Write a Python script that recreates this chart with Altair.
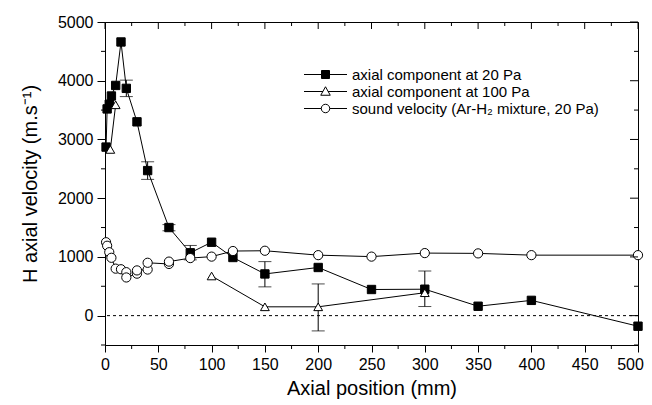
import altair as alt
import pandas as pd

S1 = "axial component at 20 Pa"
S2 = "axial component at 100 Pa"
S3 = "sound velocity (Ar-H\u2082 mixture, 20 Pa)"
series_names = [S1, S2, S3]

sq_x = [1, 2, 4, 6, 10, 15, 20, 30, 40, 60, 80, 100, 120, 150, 200, 250, 300, 350, 400, 500]
sq_y = [2870, 3520, 3600, 3740, 3920, 4660, 3870, 3300, 2470, 1500, 1070, 1250, 990, 710, 820, 445, 450, 160, 260, -180]

tri_x = [5, 10, 100, 150, 200, 300]
tri_y = [2830, 3590, 675, 150, 150, 390]
tri_seg = [0, 0, 1, 1, 1, 1]

circ_x = [1, 2, 4, 6, 10, 15, 20, 20, 30, 30, 40, 40, 60, 60, 80, 100, 120, 150, 200, 250, 300, 350, 400, 500]
circ_y = [1250, 1190, 1080, 985, 800, 790, 740, 650, 715, 770, 785, 900, 880, 920, 980, 1005, 1100, 1105, 1030, 1005, 1065, 1060, 1030, 1030]

err_x = [20, 40, 60, 80, 150, 200, 300]
err_lo = [3730, 2320, 1445, 950, 490, -260, 155]
err_hi = [4010, 2620, 1550, 1195, 920, 540, 760]

x_major = [0, 50, 100, 150, 200, 250, 300, 350, 400, 450, 500]
x_minor = [25, 75, 125, 175, 225, 275, 325, 375, 425, 475]
y_major = [0, 1000, 2000, 3000, 4000, 5000]
y_minor = [-500, 500, 1500, 2500, 3500, 4500]

rows = []
for i, (a, b) in enumerate(zip(sq_x, sq_y)):
    rows.append({"x": a, "y": b, "series": S1, "seg": "s1", "idx": i})
for i, (a, b, s) in enumerate(zip(tri_x, tri_y, tri_seg)):
    rows.append({"x": a, "y": b, "series": S2, "seg": f"s2_{s}", "idx": i})
for i, (a, b) in enumerate(zip(circ_x, circ_y)):
    rows.append({"x": a, "y": b, "series": S3, "seg": "s3", "idx": i})
df = pd.DataFrame(rows)

leg_df = pd.DataFrame({"lseries": series_names, "x": [sq_x[-1]] * 3, "y": [sq_y[-1]] * 3})

err_df = pd.DataFrame({"x": err_x, "lo": err_lo, "hi": err_hi})
zero_df = pd.DataFrame({"y": [0]})
xt_major = pd.DataFrame({"x": x_major})
xt_minor = pd.DataFrame({"x": x_minor})
yt_major = pd.DataFrame({"y": y_major})
yt_minor = pd.DataFrame({"y": y_minor})

FONT = "Liberation Sans"
W, H = 533, 323

xscale = alt.Scale(domain=[0, 500], nice=False, zero=False)
yscale = alt.Scale(domain=[-500, 5000], nice=False, zero=False)

x_axis = alt.Axis(
    values=x_major, format="d", tickSize=7, labelFlush=False,
    labelOffset={"condition": {"test": "datum.value === 500", "value": -8}, "value": 0},
    grid=False, domainColor="black", tickColor="black", labelColor="black",
    labelFont=FONT, labelFontSize=16, labelPadding=4,
    title="Axial position (mm)", titleFont=FONT, titleFontSize=20,
    titleFontWeight="normal", titleColor="black", titlePadding=6,
)
y_axis = alt.Axis(
    values=y_major, format="d", tickSize=8, labelFlush=False,
    grid=False, domainColor="black", tickColor="black", labelColor="black",
    labelFont=FONT, labelFontSize=16, labelPadding=4,
    title="H axial velocity (m.s\u207b\u00b9)", titleFont=FONT, titleFontSize=20,
    titleFontWeight="normal", titleColor="black", titlePadding=17,
)

X = alt.X("x:Q", scale=xscale, axis=x_axis)
Y = alt.Y("y:Q", scale=yscale, axis=y_axis)


def xs(field="x"):
    return alt.X(f"{field}:Q", scale=xscale, axis=x_axis)


def ys(field="y"):
    return alt.Y(f"{field}:Q", scale=yscale, axis=y_axis)


lines = alt.Chart(df).mark_line(color="black", strokeWidth=1).encode(
    x=X, y=Y, detail="seg:N", order="idx:Q"
)

zero = alt.Chart(zero_df).mark_rule(color="black", strokeDash=[3, 3], strokeWidth=1).encode(y=ys())

err_v = alt.Chart(err_df).mark_rule(color="black", strokeWidth=1).encode(
    x=xs(), y=ys("lo"), y2="hi:Q"
)
err_lo_cap = alt.Chart(err_df).mark_tick(color="black", orient="horizontal", size=13, thickness=1).encode(
    x=xs(), y=ys("lo")
)
err_hi_cap = alt.Chart(err_df).mark_tick(color="black", orient="horizontal", size=13, thickness=1).encode(
    x=xs(), y=ys("hi")
)

points = alt.Chart(df).mark_point(filled=True, stroke="black", strokeWidth=1, opacity=1).encode(
    x=xs(), y=ys(),
    shape=alt.Shape("series:N", scale=alt.Scale(domain=series_names, range=["square", "triangle-up", "circle"]), legend=None),
    fill=alt.Fill("series:N", scale=alt.Scale(domain=series_names, range=["black", "white", "white"]), legend=None),
    size=alt.Size("series:N", scale=alt.Scale(domain=series_names, range=[70, 85, 80]), legend=None),
)

# legend symbols "—■—", "—△—", "—○—" (unit path space scaled by sqrt(size)/2 = 5 px)
P_SQ = "M-4.3,0H-0.8M0.8,0H4.3M-0.8,-0.8H0.8V0.8H-0.8Z"
P_TRI = "M-4.3,0H-0.5M0.5,0H4.3M0,-0.95L0.95,0.75H-0.95Z"
P_CIR = "M-4.3,0H-0.85M0.85,0H4.3M0.85,0A0.85,0.85,0,1,1,-0.85,0A0.85,0.85,0,1,1,0.85,0Z"

legend = alt.Legend(
    title=None, orient="none", legendX=213, legendY=45,
    symbolSize=100, symbolStrokeColor="black", symbolStrokeWidth=1, symbolOpacity=1,
    labelFont=FONT, labelFontSize=15, labelColor="black", labelLimit=500,
    labelOffset=19, padding=0, rowPadding=1,
)

legend_layer = alt.Chart(leg_df).mark_point(filled=False, stroke="black", strokeWidth=1, opacity=0, size=100).encode(
    x=xs(), y=ys(),
    shape=alt.Shape("lseries:N", scale=alt.Scale(domain=series_names, range=[P_SQ, P_TRI, P_CIR]), legend=legend),
    fill=alt.Fill("lseries:N", scale=alt.Scale(domain=series_names, range=["black", "white", "white"]), legend=legend),
    stroke=alt.Stroke("lseries:N", scale=alt.Scale(domain=series_names, range=["black", "black", "black"]), legend=legend),
)

# inward ticks on top and right frame, outward minor ticks on bottom and left axes
top_major = alt.Chart(xt_major).mark_rule(color="black").encode(x=xs(), y=alt.value(0), y2=alt.value(7))
top_minor = alt.Chart(xt_minor).mark_rule(color="black").encode(x=xs(), y=alt.value(0), y2=alt.value(4))
bot_minor = alt.Chart(xt_minor).mark_rule(color="black").encode(x=xs(), y=alt.value(H), y2=alt.value(H + 4))
right_major = alt.Chart(yt_major).mark_rule(color="black").encode(y=ys(), x=alt.value(W - 8), x2=alt.value(W))
right_minor = alt.Chart(yt_minor).mark_rule(color="black").encode(y=ys(), x=alt.value(W - 4), x2=alt.value(W))
left_minor = alt.Chart(yt_minor).mark_rule(color="black").encode(y=ys(), x=alt.value(-4), x2=alt.value(0))

chart = alt.layer(
    lines, zero, err_v, err_lo_cap, err_hi_cap, points, legend_layer,
    top_major, top_minor, bot_minor, right_major, right_minor, left_minor,
).resolve_scale(
    shape="independent", fill="independent", stroke="independent"
).properties(
    width=W, height=H,
    padding={"left": 97, "top": 14, "right": 6, "bottom": 60},
    autosize=alt.AutoSizeParams(type="none"),
    background="white",
).configure_view(stroke="black", strokeWidth=1)

chart.save("out.html", embed_options={"renderer": "svg", "actions": False})
